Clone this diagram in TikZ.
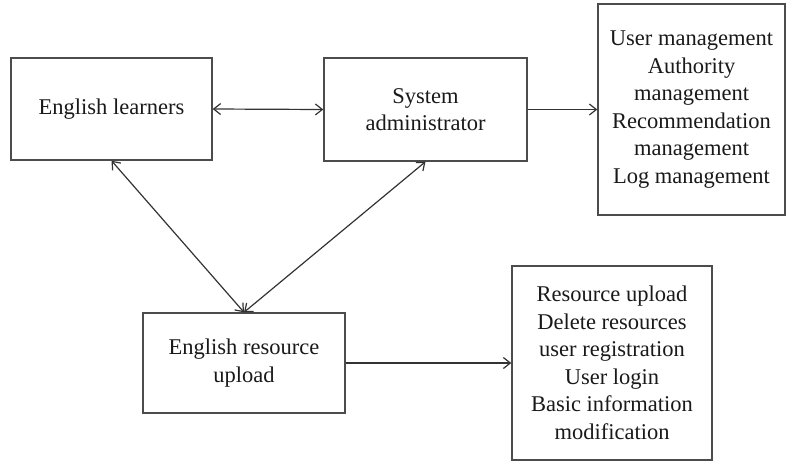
\documentclass[tikz,border=0pt]{standalone}
\usepackage{fontspec}
\setmainfont{Liberation Serif}
\usetikzlibrary{arrows.meta}
\begin{document}
\begin{tikzpicture}[x=1pt,y=-1pt,
  box/.style={draw=black!70,line width=1.4pt,align=center,inner sep=0pt,
    font=\fontsize{22.5}{27.5}\selectfont,text=black!90},
  conn/.style={draw=black!80,line width=1.2pt},
  tip/.style={-{Straight Barb[length=7pt,width=11pt,line width=1.2pt]}},
  dtip/.style={{Straight Barb[length=7pt,width=11pt,line width=1.2pt]}-{Straight Barb[length=7pt,width=11pt,line width=1.2pt]}}]
\useasboundingbox (0,0) rectangle (789,464);
\node[box,minimum width=201pt,minimum height=102pt] (el) at (111.5,109) {English learners};
\node[box,minimum width=203pt,minimum height=103pt] (sa) at (425.5,109.5) {System\\administrator};
\node[box,minimum width=187pt,minimum height=211pt] (tr) at (691.5,109.5) {User management\\Authority\\management\\Recommendation\\management\\Log management};
\node[box,minimum width=202pt,minimum height=100pt] (eru) at (244,363) {English resource\\upload};
\node[box,minimum width=200pt,minimum height=194pt] (br) at (612,363) {Resource upload\\Delete resources\\user registration\\User login\\Basic information\\modification};
\draw[conn,dtip] (el.east) -- (sa.west);
\draw[conn,tip] (sa.east) -- (tr.west);
\draw[conn,dtip] (el.south) -- (eru.north);
\draw[conn,dtip] (sa.south) -- (eru.north);
\draw[conn,tip] (eru.east) -- (br.west);
\end{tikzpicture}
\end{document}
